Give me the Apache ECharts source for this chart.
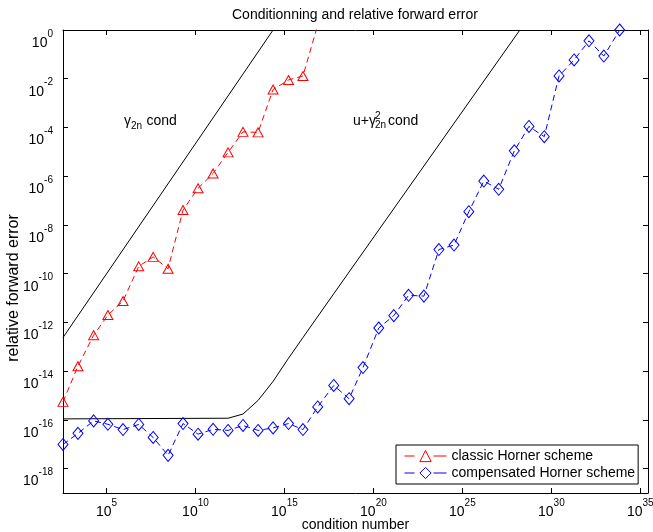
<!DOCTYPE html>
<html><head><meta charset="utf-8">
<script src="https://cdn.jsdelivr.net/npm/echarts@6/dist/echarts.min.js"></script>
<style>html,body{margin:0;padding:0;background:#fff}#c{width:653px;height:532px}</style>
</head><body><div id="c"></div>
<script>
// condition numbers of the test polynomials (x values)
const condNumbers = [3.6e2, 2.5e3, 1.9e4, 1.2e5, 8.5e5, 6.5e6, 4.2e7, 2.9e8, 2.0e9, 1.4e10,
  9.8e10, 6.8e11, 4.7e12, 3.3e13, 2.3e14, 1.7e15, 1.1e16, 7.4e16, 5.9e17, 4.3e18,
  2.6e19, 2.0e20, 1.4e21, 9.5e21, 6.9e22, 4.8e23, 3.4e24, 2.3e25, 1.6e26, 1.1e27,
  8.3e27, 5.5e28, 4.0e29, 2.7e30, 1.9e31, 1.3e32, 8.9e32, 6.9e33];
// classic Horner relative forward error
const classicError = [5.5e-16, 1.6e-14, 3.0e-13, 2.0e-12, 7.6e-12, 2.0e-10, 4.9e-10, 1.6e-10, 4.1e-8, 3.2e-7,
  1.3e-6, 9.5e-6, 6.6e-5, 6.3e-5, 3.6e-3, 8.9e-3, 1.3e-2, 1.6];
// compensated Horner relative forward error
const compensatedError = [9.8e-18, 2.8e-17, 9.1e-17, 6.6e-17, 4.0e-17, 6.5e-17, 1.9e-17, 3.5e-18, 7.1e-17, 2.6e-17,
  4.1e-17, 3.7e-17, 5.9e-17, 3.7e-17, 4.7e-17, 7.1e-17, 4.0e-17, 3.4e-16, 2.6e-15, 7.4e-16,
  1.4e-14, 5.9e-13, 1.9e-12, 1.3e-11, 1.2e-11, 9.8e-10, 1.5e-9, 3.5e-8, 6.3e-7, 2.9e-7,
  1.1e-5, 1.1e-4, 4.2e-5, 1.3e-2, 5.9e-2, 3.6e-1, 8.5e-2, 1.0];
// a priori bound gamma_2n * cond
const gammaBoundCond = [3.6e2, 2.3e14];
const gammaBound = [2.4e-13, 1.0];
// a priori bound u + gamma_2n^2 * cond
const compBoundCond = [3.6e2, 6.8e11, 4.7e12, 3.3e13, 2.3e14, 1.7e15, 1.1e16, 5.9e17, 1.7e28];
const compBound = [1.1e-16, 1.17e-16, 1.74e-16, 6.3e-16, 3.8e-15, 3.4e-14, 2.4e-13, 1.5e-11, 1.0];
// ticks
const xTickValues = [1e5, 1e10, 1e15, 1e20, 1e25, 1e30, 1e35];
const yTickValues = [1e-18, 1e-16, 1e-14, 1e-12, 1e-10, 1e-8, 1e-6, 1e-4, 1e-2, 1];

const FONT = 'Liberation Sans, Arial, Helvetica, sans-serif';
const pairs = (xs, ys) => ys.map((y, i) => [xs[i], y]);
const fmt = v => { const e = Math.round(Math.log10(v)); return '{b|10}{s|' + (e < 0 ? '-' : '') + Math.abs(e) + '}'; };
const rich = {
  b: {fontSize: 14, lineHeight: 14, fontFamily: FONT, color: '#000', padding: [7, 0, 0, 0], verticalAlign: 'top'},
  s: {fontSize: 10, lineHeight: 10, fontFamily: FONT, color: '#000', verticalAlign: 'top'}
};
const xMin = 3.6e2, xMax = 2.7e35, yMin = 1e-19, yMax = 1;
const baseAxis = (extra) => Object.assign({
  type: 'log', logBase: 10,
  splitLine: {show: false},
  axisLine: {show: true, lineStyle: {color: '#000', width: 1}},
  minorTick: {show: false}
}, extra);

const chart = echarts.init(document.getElementById('c'), null, {renderer: 'canvas'});
chart.setOption({
  animation: false,
  backgroundColor: '#fff',
  title: {
    text: 'Conditionning and relative forward error',
    left: 232, top: 8, padding: 0,
    textStyle: {fontSize: 14, fontWeight: 'normal', color: '#000', fontFamily: FONT}
  },
  grid: {left: 63, right: 5, top: 30, bottom: 39, containLabel: false, outerBoundsMode: 'none'},
  xAxis: [
    baseAxis({
      min: xMin, max: xMax, position: 'bottom',
      name: 'condition number', nameLocation: 'middle', nameGap: 25, nameMoveOverlap: false,
      nameTextStyle: {fontSize: 14, color: '#000', fontFamily: FONT},
      axisTick: {show: true, inside: true, length: 5, lineStyle: {color: '#000'}, customValues: xTickValues},
      axisLabel: {show: true, margin: 5, formatter: fmt, rich: rich, customValues: xTickValues, showMinLabel: true, showMaxLabel: true}
    }),
    baseAxis({
      min: xMin, max: xMax, position: 'top',
      axisTick: {show: true, inside: true, length: 5, lineStyle: {color: '#000'}, customValues: xTickValues},
      axisLabel: {show: false}
    })
  ],
  yAxis: [
    baseAxis({
      min: yMin, max: yMax, position: 'left',
      name: 'relative forward error', nameLocation: 'middle', nameGap: 41, nameRotate: 90, nameMoveOverlap: false,
      nameTextStyle: {fontSize: 16, color: '#000', fontFamily: FONT, padding: [0, 53, 0, 0]},
      axisTick: {show: true, inside: true, length: 5, lineStyle: {color: '#000'}, customValues: yTickValues},
      axisLabel: {show: true, margin: 10, formatter: fmt, rich: rich, padding: [12, 0, 0, 0], customValues: yTickValues}
    }),
    baseAxis({
      min: yMin, max: yMax, position: 'right',
      axisTick: {show: true, inside: true, length: 5, lineStyle: {color: '#000'}, customValues: yTickValues},
      axisLabel: {show: false}
    })
  ],
  legend: {
    data: ['classic Horner scheme', 'compensated Horner scheme'],
    orient: 'vertical', left: 396, top: 445,
    backgroundColor: '#fff', borderColor: '#000', borderWidth: 1, borderRadius: 0,
    padding: [4, 3, 4, 8], itemGap: 3, itemWidth: 42, itemHeight: 14,
    textStyle: {fontSize: 14, color: '#000', fontFamily: FONT},
    lineStyle: {type: [10, 19, 13, 100], width: 1},
    itemStyle: {borderWidth: 1}
  },
  graphic: [
    {type: 'text', x: 124, y: 121, style: {text: 'γ', fontSize: 14, fontFamily: FONT, fill: '#000', verticalAlign: 'middle'}},
    {type: 'text', x: 131, y: 126, style: {text: '2n', fontSize: 10, fontFamily: FONT, fill: '#000', verticalAlign: 'middle'}},
    {type: 'text', x: 146.5, y: 121, style: {text: 'cond', fontSize: 14, fontFamily: FONT, fill: '#000', verticalAlign: 'middle'}},
    {type: 'text', x: 353, y: 121, style: {text: 'u+', fontSize: 14, fontFamily: FONT, fill: '#000', verticalAlign: 'middle'}},
    {type: 'text', x: 369, y: 121, style: {text: 'γ', fontSize: 14, fontFamily: FONT, fill: '#000', verticalAlign: 'middle'}},
    {type: 'text', x: 375, y: 116, style: {text: '2', fontSize: 10, fontFamily: FONT, fill: '#000', verticalAlign: 'middle'}},
    {type: 'text', x: 375, y: 125.5, style: {text: '2n', fontSize: 10, fontFamily: FONT, fill: '#000', verticalAlign: 'middle'}},
    {type: 'text', x: 388, y: 121, style: {text: 'cond', fontSize: 14, fontFamily: FONT, fill: '#000', verticalAlign: 'middle'}}
  ],
  series: [
    {
      name: 'gamma bound', type: 'line', data: pairs(gammaBoundCond, gammaBound),
      showSymbol: false, symbol: 'none', clip: true, z: 1,
      lineStyle: {color: '#000', width: 1}, silent: true
    },
    {
      name: 'compensated bound', type: 'line', data: pairs(compBoundCond, compBound),
      showSymbol: false, symbol: 'none', clip: true, z: 1,
      lineStyle: {color: '#000', width: 1}, silent: true
    },
    {
      name: 'classic Horner scheme', type: 'line', data: pairs(condNumbers, classicError),
      symbol: 'triangle', symbolSize: [10, 9], showAllSymbol: true, clip: true, z: 3,
      lineStyle: {color: '#ff0000', width: 1, type: [6, 4]},
      itemStyle: {color: 'rgba(0,0,0,0)', borderColor: '#ff0000', borderWidth: 1}
    },
    {
      name: 'compensated Horner scheme', type: 'line', data: pairs(condNumbers, compensatedError),
      symbol: 'diamond', symbolSize: [10, 12], showAllSymbol: true, clip: true, z: 3,
      lineStyle: {color: '#0000ff', width: 1, type: [6, 4]},
      itemStyle: {color: 'rgba(0,0,0,0)', borderColor: '#0000ff', borderWidth: 1}
    }
  ]
});
</script></body></html>
